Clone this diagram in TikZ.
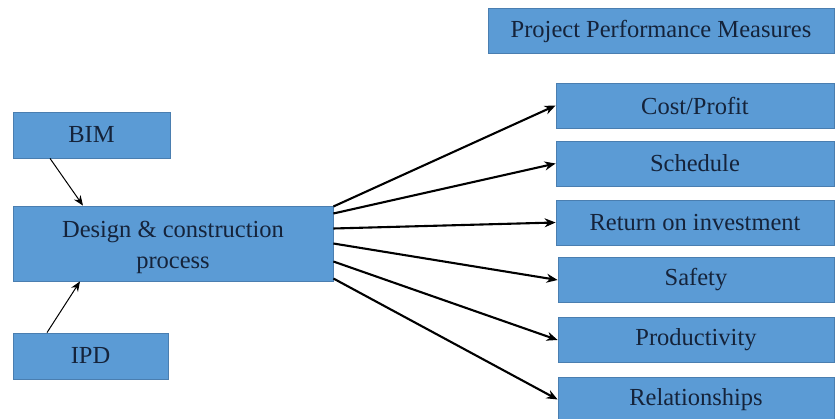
\documentclass[tikz,border=0pt]{standalone}
\usepackage{fontspec}
\setmainfont{Liberation Serif}
\usetikzlibrary{positioning, arrows.meta}
\definecolor{boxblue}{HTML}{5B9BD5}
\definecolor{boxedge}{HTML}{4A7EB0}
\definecolor{boxtext}{HTML}{15233A}

\begin{document}
\begin{tikzpicture}[x=1pt, y=-1pt,
    box/.style={draw=boxedge, line width=0.8pt, fill=boxblue, text=boxtext, font=\fontsize{24.5}{31}\selectfont, inner sep=0pt, align=center},
    thin arrow/.style={-{Stealth[length=10pt, width=8pt]}, line width=1pt},
    thick arrow/.style={-{Stealth[length=11pt, width=9pt]}, line width=2.1pt}]
            \useasboundingbox (0,0) rectangle (836,419);

            \node[box, minimum width=157pt, minimum height=46pt] (bim) at (91.5,135) {BIM};
            \node[box, minimum width=320pt, minimum height=75pt] (dcp) at (173,243.5) {\rule{0pt}{25pt}Design \& construction\\process};
            \node[box, minimum width=155pt, minimum height=46pt] (ipd) at (90.5,356) {IPD};

            \node[box, minimum width=346pt, minimum height=45pt] (ppm) at (661,31) {Project Performance Measures};
            \node[box, minimum width=278pt, minimum height=45pt] (cost) at (695,105.5) {Cost/Profit};
            \node[box, minimum width=278pt, minimum height=45pt] (sched) at (695,163.5) {Schedule};
            \node[box, minimum width=278pt, minimum height=45pt] (roi) at (695,222.5) {Return on investment};
            \node[box, minimum width=276pt, minimum height=45pt] (safe) at (696,280) {Safety};
            \node[box, minimum width=276pt, minimum height=45pt] (prod) at (696,340) {Productivity};
            \node[box, minimum width=276pt, minimum height=45pt] (rel) at (696,399.5) {Relationships};

            % Draw edges
            \draw[thin arrow] ([xshift=-41.5pt]bim.south) -- ([xshift=-90pt]dcp.north);
            \draw[thin arrow] ([xshift=-43.5pt]ipd.north) -- ([xshift=-93pt]dcp.south);

            \draw[thick arrow] ([yshift=37pt]dcp.east) -- (cost.west);
            \draw[thick arrow] ([yshift=30pt]dcp.east) -- (sched.west);
            \draw[thick arrow] ([yshift=15pt]dcp.east) -- (roi.west);
            \draw[thick arrow] (dcp.east) -- (safe.west);
            \draw[thick arrow] ([yshift=-18pt]dcp.east) -- (prod.west);
            \draw[thick arrow] ([yshift=-35pt]dcp.east) -- (rel.west);
        \end{tikzpicture}
\end{document}
